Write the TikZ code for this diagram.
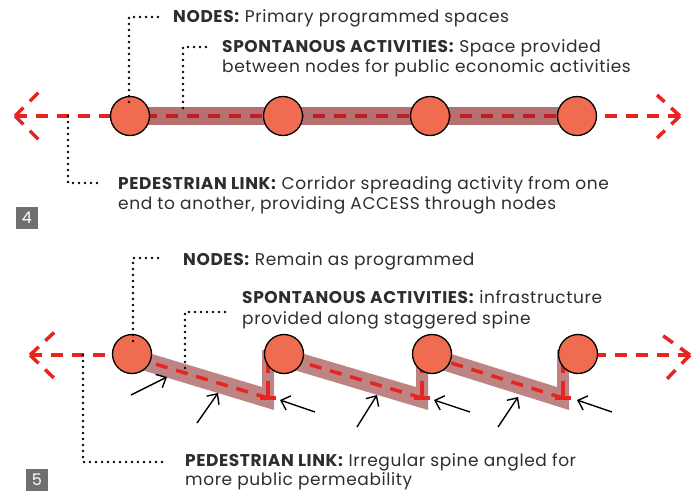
\documentclass[tikz,border=0pt]{standalone}
\usepackage{fontspec}
\setmainfont{Poppins}[LetterSpace=3.5]
\usetikzlibrary{arrows.meta}
\definecolor{nodefill}{RGB}{239,108,80}
\definecolor{bandA}{RGB}{181,112,112}
\definecolor{bandB}{RGB}{190,132,132}
\definecolor{redA}{RGB}{232,36,32}
\definecolor{redDark}{RGB}{192,30,36}
\definecolor{boxgray}{RGB}{112,112,112}
\definecolor{txt}{RGB}{45,45,45}
\tikzset{
  dashred/.style={draw=redA, line width=3.5pt, dash pattern=on 12pt off 9pt},
  leader/.style={draw=black, line width=2.6pt, line cap=round, dash pattern=on 0pt off 6pt},
  nodecirc/.style={circle, draw=black, line width=1.3pt, fill=nodefill, minimum size=39pt, inner sep=0pt},
  lbl/.style={anchor=base west, inner sep=0pt, font=\fontsize{17}{20}\selectfont, text=txt},
  numbox/.style={fill=boxgray, text=white, minimum width=22pt, minimum height=22pt, inner sep=0pt, font=\fontsize{16}{16}\selectfont},
  pointer/.style={draw=black, line width=1.4pt, -{Straight Barb[length=8pt,width=15pt]}},
  stub/.style={draw=redA, line width=3.5pt}
}
\begin{document}
\begin{tikzpicture}[x=1pt,y=-1pt]
\useasboundingbox (0,0) rectangle (696,491);
% ---------- TOP DIAGRAM (4) ----------
\coordinate (lt) at (15,116);
\coordinate (rt) at (680,116);
\fill[bandA] (130,107) rectangle (577,125);
\draw[dashred] (lt) -- (130,116);
\draw[dashred] (lt) -- (42,89);
\draw[dashred] (lt) -- (42,143);
\draw[dashred] (rt) -- (577,116);
\draw[dashred] (rt) -- (657,95);
\draw[dashred] (rt) -- (657,138);
\draw[dashred, draw=redDark] (577,116) -- (130,116);
\node[nodecirc] (a1) at (130,116) {};
\node[nodecirc] (a2) at (283,116) {};
\node[nodecirc] (a3) at (430,116) {};
\node[nodecirc] (a4) at (577,116) {};
% labels
\node[lbl] (t1) at (173,22) {\textbf{NODES:} Primary programmed spaces};
\node[lbl] (t2a) at (222,52) {\textbf{SPONTANOUS ACTIVITIES:} Space provided};
\node[lbl] (t2b) at (222,72) {between nodes for public economic activities};
\node[lbl] (t3a) at (118,189) {\textbf{PEDESTRIAN LINK:} Corridor spreading activity from one};
\node[lbl] (t3b) at (118,209) {end to another, providing ACCESS through nodes};
% leaders
\coordinate (l1s) at (129,102);
\coordinate (l1e) at (163,17);
\draw[leader] (l1s) |- (l1e);
\coordinate (l2s) at (183,108);
\coordinate (l2e) at (208,47);
\draw[leader] (l2s) |- (l2e);
\coordinate (l3s) at (68,116);
\coordinate (l3e) at (100,183);
\draw[leader] (l3s) |- (l3e);
\node[numbox] (box4) at (27,218) {4};
% ---------- BOTTOM DIAGRAM (5) ----------
\coordinate (lb) at (30,355);
\coordinate (rb) at (690,355);
% bands
\fill[bandB] (132,348) -- (262,387) -- (262,350) -- (274,350) -- (274,410) -- (132,367) -- cycle;
\fill[bandB] (284,348) -- (416,387) -- (416,350) -- (428,350) -- (428,410) -- (284,367) -- cycle;
\fill[bandB] (432,348) -- (557,387) -- (557,350) -- (569,350) -- (569,410) -- (432,367) -- cycle;
% spine
\draw[dashred] (268,398) -- (132,357);
\draw[dashred, dash pattern=on 17pt off 8pt] (268,398) -- (268,360);
\draw[stub] (260,398) -- (276,398);
\draw[dashred] (422,398) -- (284,357);
\draw[dashred, dash pattern=on 17pt off 8pt] (422,398) -- (422,360);
\draw[stub] (414,398) -- (430,398);
\draw[dashred] (563,398) -- (432,357);
\draw[dashred, dash pattern=on 17pt off 8pt] (563,398) -- (563,360);
\draw[stub] (555,398) -- (571,398);
% ends
\draw[dashred] (lb) -- (132,355);
\draw[dashred] (lb) -- (60,327);
\draw[dashred] (lb) -- (58,382);
\draw[dashred] (rb) -- (578,355);
\draw[dashred] (rb) -- (662,335);
\draw[dashred] (rb) -- (662,384);
\node[nodecirc] (b1) at (132,354) {};
\node[nodecirc] (b2) at (284,354) {};
\node[nodecirc] (b3) at (432,354) {};
\node[nodecirc] (b4) at (578,354) {};
% pointers
\coordinate (p1s) at (131,395); \coordinate (p1e) at (167,377);
\coordinate (p2s) at (197,423); \coordinate (p2e) at (218,393);
\coordinate (p3s) at (315,412); \coordinate (p3e) at (280,400);
\coordinate (p4s) at (357,427); \coordinate (p4e) at (377,395);
\coordinate (p5s) at (470,412); \coordinate (p5e) at (434,400);
\coordinate (p6s) at (498,427); \coordinate (p6e) at (518,397);
\coordinate (p7s) at (612,412); \coordinate (p7e) at (577,400);
\foreach \i in {1,...,7} {\draw[pointer] (p\i s) -- (p\i e);}
% labels
\node[lbl] (u1) at (183,265) {\textbf{NODES:} Remain as programmed};
\node[lbl] (u2a) at (242,303) {\textbf{SPONTANOUS ACTIVITIES:} infrastructure};
\node[lbl] (u2b) at (242,324) {provided along staggered spine};
\node[lbl] (u3a) at (185,466) {\textbf{PEDESTRIAN LINK:} Irregular spine angled for};
\node[lbl] (u3b) at (185,485) {more public permeability};
% leaders
\coordinate (m1s) at (133,341);
\coordinate (m1e) at (163,258);
\draw[leader] (m1s) |- (m1e);
\coordinate (m2s) at (185,368);
\coordinate (m2e) at (228,312);
\draw[leader] (m2s) |- (m2e);
\coordinate (m3s) at (83,355);
\coordinate (m3e) at (165,462);
\draw[leader] (m3s) |- (m3e);
\node[numbox] (box5) at (37,480) {5};
\end{tikzpicture}
\end{document}
